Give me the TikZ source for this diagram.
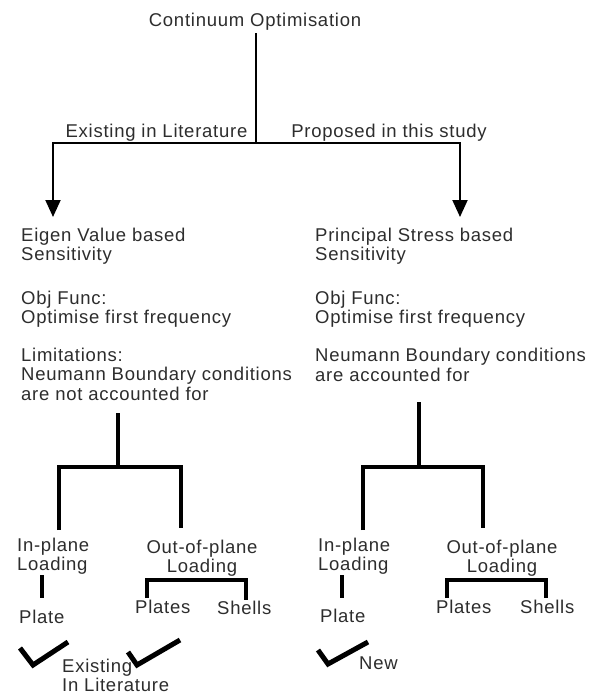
\documentclass[tikz,border=0pt]{standalone}
\usepackage{fontspec}
\setmainfont{Liberation Sans}[LetterSpace=4]
\usetikzlibrary{arrows.meta}
\definecolor{textgray}{RGB}{45,45,45}
\begin{document}
\begin{tikzpicture}[x=1pt,y=-1pt,
  txt/.style={inner sep=0pt, font=\fontsize{18.5}{19.5}\selectfont, text=textgray, align=left},
  ctxt/.style={txt, align=center},
  conn/.style={line width=2pt, draw=black},
  arr/.style={conn, -{Triangle[width=15pt,length=17pt]}},
  tree/.style={line width=4.5pt, draw=black, line join=miter},
  check/.style={line width=5pt, draw=black, line join=miter}]
\useasboundingbox[fill=white] (0,0) rectangle (602,694);

% top
\node[txt, anchor=base, inner sep=3pt] (title) at (255,26) {Continuum Optimisation};
\node[txt, anchor=base] (exl) at (156.5,137) {Existing in Literature};
\node[txt, anchor=base] (pro) at (389,137) {Proposed in this study};
\coordinate (j1) at (256,143);
\coordinate (aL) at (53,217);
\coordinate (aR) at (460,217);
\draw[conn] (title.south -| j1) -- (j1);
\draw[arr] (j1) -| (aL);
\draw[arr] (j1) -| (aR);

% left column (base anchor = baseline of last line)
\node[txt, anchor=base west] (eigL) at (21,260.5) {Eigen Value based\\Sensitivity};
\node[txt, anchor=base west] (objL) at (21,323.5) {Obj Func:\\Optimise first frequency};
\node[txt, anchor=base west] (limL) at (21,400) {Limitations:\\Neumann Boundary conditions\\are not accounted for};
% right column
\node[txt, anchor=base west] (eigR) at (315,260.5) {Principal Stress based\\Sensitivity};
\node[txt, anchor=base west] (objR) at (315,323.5) {Obj Func:\\Optimise first frequency};
\node[txt, anchor=base west] (limR) at (315,381) {Neumann Boundary conditions\\are accounted for};

% left tree
\coordinate (lt) at (118,413);
\coordinate (lj) at (118,467);
\coordinate (lla) at (59,467);
\coordinate (llb) at (59,530);
\coordinate (lra) at (181,467);
\coordinate (lrb) at (181,528);
\draw[tree] (lt) -- (lj);
\draw[tree] (llb) -- (lla) -- (lra) -- (lrb);

% right tree
\coordinate (rt) at (419,402);
\coordinate (rj) at (419,467);
\coordinate (rla) at (363,467);
\coordinate (rlb) at (363,530);
\coordinate (rra) at (483,467);
\coordinate (rrb) at (483,528);
\draw[tree] (rt) -- (rj);
\draw[tree] (rlb) -- (rla) -- (rra) -- (rrb);

% loading nodes
\node[txt, anchor=base west] (inL) at (17,570.5) {In-plane\\Loading};
\node[ctxt, anchor=base] (outL) at (202,572.5) {Out-of-plane\\Loading};
\node[txt, anchor=base west] (inR) at (318,570.5) {In-plane\\Loading};
\node[ctxt, anchor=base] (outR) at (502,572.5) {Out-of-plane\\Loading};

% plate links
\coordinate (plt) at (42,575);
\coordinate (plb) at (42,598);
\draw[tree] (plt) -- (plb);
\coordinate (prt) at (342,575);
\coordinate (prb) at (342,598);
\draw[tree] (prt) -- (prb);

% brackets
\coordinate (bl1) at (147,598);
\coordinate (bl2) at (147,580);
\coordinate (bl3) at (246,580);
\coordinate (bl4) at (246,600);
\draw[tree, line width=4pt] (bl1) -- (bl2) -- (bl3) -- (bl4);
\coordinate (br1) at (447,598);
\coordinate (br2) at (447,580);
\coordinate (br3) at (546,580);
\coordinate (br4) at (546,598);
\draw[tree, line width=4pt] (br1) -- (br2) -- (br3) -- (br4);

% leaves
\node[txt, anchor=base west] (plateL) at (19,623) {Plate};
\node[txt, anchor=base west] (platesL) at (135,613) {Plates};
\node[txt, anchor=base west] (shellsL) at (217,614) {Shells};
\node[txt, anchor=base west] (plateR) at (320,622) {Plate};
\node[txt, anchor=base west] (platesR) at (436,613) {Plates};
\node[txt, anchor=base west] (shellsR) at (520,613) {Shells};

% checkmarks
\draw[check] (20,648) -- (33,665) -- (68,642);
\draw[check] (128,652) -- (137,665) -- (180,640);
\draw[check] (318,650) -- (328,664) -- (368,642);
\node[txt, anchor=base west] (exist) at (62,691.5) {Existing\\In Literature};
\node[txt, anchor=base west] (new) at (359,669) {New};
\end{tikzpicture}
\end{document}
